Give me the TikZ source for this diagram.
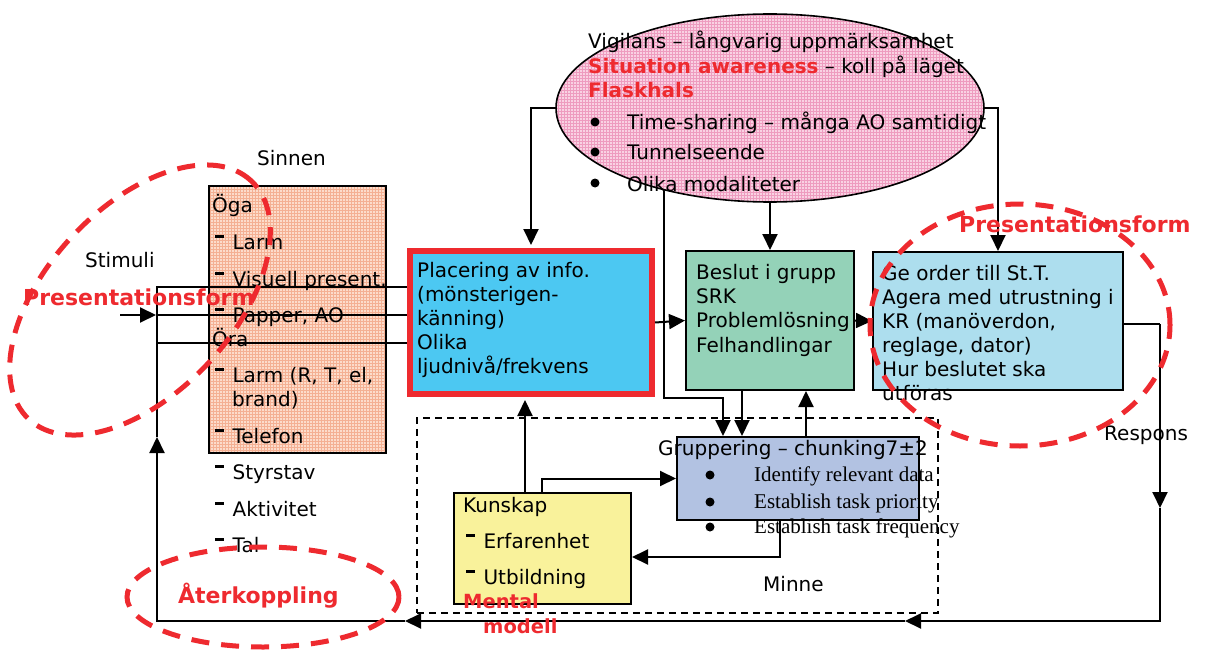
\documentclass[tikz,border=0pt]{standalone}
\usepackage{fontspec}
\setmainfont{DejaVu Sans}
\newfontfamily\grpserif{Liberation Serif}
\usetikzlibrary{arrows.meta,shapes.geometric}

\definecolor{alarmred}{HTML}{EE2A2F}
\definecolor{sinnenfill}{HTML}{FCDCCB}
\definecolor{sinnengrid}{HTML}{F4B093}
\definecolor{vigfill}{HTML}{F9D2E3}
\definecolor{viggrid}{HTML}{EE9CBF}
\definecolor{placfill}{HTML}{4CC8F2}
\definecolor{beslutfill}{HTML}{94D2B8}
\definecolor{gefill}{HTML}{ADDEEE}
\definecolor{grupfill}{HTML}{B2C2E2}
\definecolor{kunfill}{HTML}{F9F29B}

% raised short bar used in front of list items
\newcommand\itemdash{\rule[0.55em]{0.42em}{0.13em}\hspace{0.45em}}

\begin{document}
\begin{tikzpicture}[x=1pt,y=-1pt,
  box/.style={draw=black, line width=2pt, inner sep=0pt, anchor=north west},
  txt/.style={anchor=base west, inner sep=0pt, font=\fontsize{20}{24}\selectfont},
  sertxt/.style={anchor=base west, inner sep=0pt, font=\grpserif\fontsize{21}{25}\selectfont},
  tag/.style={anchor=base west, inner sep=0pt, text=alarmred, font=\fontsize{22}{26}\selectfont\bfseries},
  smalltag/.style={anchor=base west, inner sep=0pt, text=alarmred, font=\fontsize{19.5}{24}\selectfont\bfseries},
  arr/.style={line width=2pt, -{Triangle[length=16pt,width=15pt]}},
  conn/.style={line width=2pt},
  ring/.style={draw=alarmred, line width=5pt, dash pattern=on 18pt off 12pt},
  dot/.style={circle, fill=black, inner sep=0pt, minimum size=9pt}
]
\useasboundingbox (0,0) rectangle (1210,650);

% ---- memory frame (dashed)
\node[box, dashed, line width=1.5pt, dash pattern=on 7pt off 5pt,
      minimum width=521pt, minimum height=195pt] (minne) at (416,417) {};

% ---- senses box with checked fill
\fill[sinnenfill] (208,185) rectangle (385,452);
\begin{scope}
  \clip (208,185) rectangle (385,452);
  \draw[sinnengrid, line width=0.6pt, step=3pt] (208,185) grid (385,452);
\end{scope}
\node[box, minimum width=177pt, minimum height=267pt] (sinnen) at (208,185) {};

% ---- attention ellipse with checked fill
\fill[vigfill] (770,108) ellipse [x radius=214pt, y radius=94pt];
\begin{scope}
  \clip (770,108) ellipse [x radius=214pt, y radius=94pt];
  \draw[viggrid, line width=0.6pt, step=3pt] (556,14) grid (984,202);
\end{scope}
\node[ellipse, draw=black, line width=1.6pt, inner sep=0pt,
      minimum width=428pt, minimum height=188pt] (vig) at (770,108) {};

% ---- process boxes
\node[box, draw=alarmred, line width=6pt, fill=placfill,
      minimum width=242pt, minimum height=143pt] (plac) at (407,248) {};
\node[box, fill=beslutfill, minimum width=168pt, minimum height=139pt] (beslut) at (685,250) {};
\node[box, fill=gefill, minimum width=250pt, minimum height=138pt] (ge) at (872,251) {};
\node[box, fill=grupfill, minimum width=242pt, minimum height=83pt] (grup) at (676,436) {};
\node[box, fill=kunfill, minimum width=177pt, minimum height=111pt] (kun) at (453,492) {};

% ---- texts of the senses
\node[txt] (sinnenlbl) at (257,165) {Sinnen};
\node[txt] (stimlbl) at (85,267) {Stimuli};
\node[txt] (s1) at (212,212) {Öga};
\node[txt] (s2) at (215,249) {\itemdash Larm};
\node[txt] (s3) at (215,286) {\itemdash Visuell present.};
\node[txt] (s4) at (215,322) {\itemdash Papper, AO};
\node[txt] (s5) at (212,346) {Öra};
\node[txt] (s6) at (215,382) {\itemdash Larm (R, T, el,};
\node[txt] (s7) at (232,406) {brand)};
\node[txt] (s8) at (215,443) {\itemdash Telefon};
\node[txt] (s9) at (215,479) {\itemdash Styrstav};
\node[txt] (s10) at (215,516) {\itemdash Aktivitet};
\node[txt] (s11) at (215,552) {\itemdash Tal};

% ---- texts of the ellipse
\node[txt] (v1) at (588,49) {Vigilans – långvarig uppmärksamhet};
\node[txt] (v2) at (588,74) {{\bfseries\color{alarmred}Situation awareness} – koll på läget};
\node[txt, font=\fontsize{20}{24}\selectfont\bfseries, text=alarmred] (v3) at (588,98) {Flaskhals};
\node[dot] (vd1) at (595,122) {};
\node[dot] (vd2) at (595,152) {};
\node[dot] (vd3) at (595,183) {};
\node[txt] (v4) at (627,130) {Time-sharing – många AO samtidigt};
\node[txt] (v5) at (627,160) {Tunnelseende};
\node[txt] (v6) at (627,191) {Olika modaliteter};

% ---- texts of the process boxes
\node[txt] (p1) at (417,277) {Placering av info.};
\node[txt] (p2) at (417,301) {(mönsterigen-};
\node[txt] (p3) at (417,325) {känning)};
\node[txt] (p4) at (417,349) {Olika};
\node[txt] (p5) at (417,373) {ljudnivå/frekvens};

\node[txt] (b1) at (696,279) {Beslut i grupp};
\node[txt] (b2) at (696,303) {SRK};
\node[txt] (b3) at (696,327) {Problemlösning};
\node[txt] (b4) at (696,352) {Felhandlingar};

\node[txt] (g1t) at (882,280) {Ge order till St.T.};
\node[txt] (g2t) at (882,304) {Agera med utrustning i};
\node[txt] (g3t) at (882,328) {KR (manöverdon,};
\node[txt] (g4t) at (882,352) {reglage, dator)};
\node[txt] (g5t) at (882,376) {Hur beslutet ska};
\node[txt] (g6t) at (882,400) {utföras};

\node[txt] (c0) at (658,455) {Gruppering – chunking7±2};
\node[dot] (cd1) at (710,475) {};
\node[dot] (cd2) at (710,502) {};
\node[dot] (cd3) at (710,527) {};
\node[sertxt] (c1) at (754,481) {Identify relevant data};
\node[sertxt] (c2) at (754,508) {Establish task priority};
\node[sertxt] (c3) at (754,533) {Establish task frequency};

\node[txt] (k1t) at (463,512) {Kunskap};
\node[txt] (k2t) at (466,548) {\itemdash Erfarenhet};
\node[txt] (k3t) at (466,584) {\itemdash Utbildning};

\node[txt] (minnelbl) at (763,591) {Minne};
\node[txt] (resplbl) at (1104,440) {Respons};

% ---- routing points
\coordinate (r0) at (1160,324);
\coordinate (m1) at (1160,508);
\coordinate (r1) at (1160,621);
\coordinate (m2) at (905,621);
\coordinate (m3) at (405,621);
\coordinate (l1) at (157,621);
\coordinate (m4) at (157,437);
\coordinate (l0) at (157,287);
\coordinate (l2) at (157,343);
\coordinate (stim) at (120,315);
\coordinate (stimtip) at (156,315);
\coordinate (q1) at (667,398);
\coordinate (q2) at (723,436);
\coordinate (q3) at (742,436);
\coordinate (q4) at (806,436);
\coordinate (q5) at (780,557);
\coordinate (q6) at (542,478);
\coordinate (q7) at (525,492);

% ---- connectors
\draw[arr, shorten >=3pt] (vig.west) -| (plac.north);
\draw[arr] (vig.east) -| (ge.north);
\draw[arr] (vig.south -| beslut.north) -- (beslut.north);
\draw[arr] (vig.218.5) -- (vig.218.5 |- q1) -| (q2);
\draw[arr] (beslut.south -| q3) -- (q3);
\draw[arr] (q4) -- (beslut.south -| q4);
\draw[arr] (plac.east) -- (beslut.west);
\draw[arr] (beslut.east) -- (ge.west);
\draw[arr, shorten >=3pt] (kun.north -| q7) -- (plac.south -| q7);
\draw[arr] (kun.north -| q6) |- (grup.west);
\draw[arr] (grup.south -| q5) |- (kun.east |- q5);

% response / feedback loop
\draw[conn] (ge.east |- r0) -- (r0);
\draw[arr] (r0) -- (m1);
\draw[arr] (m1) -- (r1) -- (m2);
\draw[arr] (m2) -- (m3);
\draw[arr] (m3) -- (l1) -- (m4);
\draw[conn] (m4) -- (l0) -- (plac.west |- l0);
\draw[conn] (l2) -- (plac.west |- l2);
\draw[arr] (stim) -- (stimtip);
\draw[conn] (stimtip) -- (plac.west |- stimtip);

% ---- red highlight rings and labels
\draw[ring, rotate around={47:(140,300)}] (140,300) ellipse [x radius=163pt, y radius=93pt];
\draw[ring] (1020,325) ellipse [x radius=150pt, y radius=121pt];
\draw[ring] (263,597) ellipse [x radius=136pt, y radius=50pt];

\node[tag] (pres1) at (23,305) {Presentationsform};
\node[tag] (pres2) at (959,232) {Presentationsform};
\node[tag] (aterk) at (178,603) {Återkoppling};
\node[smalltag] (ment1) at (463,608) {Mental};
\node[smalltag] (ment2) at (483,633) {modell};
\end{tikzpicture}
\end{document}
